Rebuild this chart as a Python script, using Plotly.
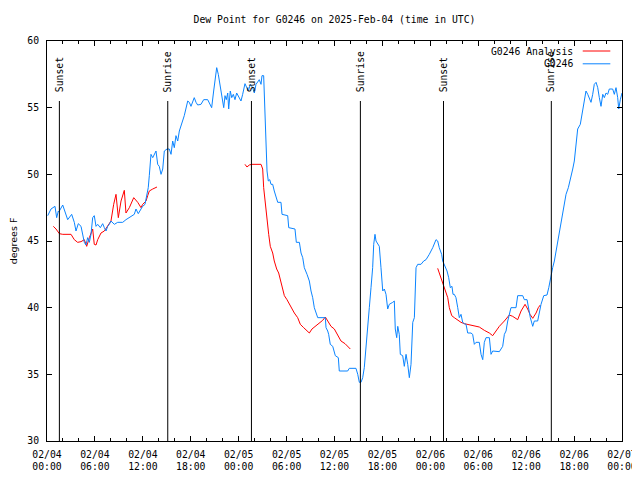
import pandas as pd
import plotly.graph_objects as go

BASE = pd.Timestamp("2025-02-04 00:00")

# Observed dew point (G0246): hours since 02/04 00:00 UTC, degrees F
blue_hours = [0.09, 0.50, 1.00, 1.21, 1.42, 1.50, 1.97, 2.38, 2.59, 3.09, 3.42, 3.63, 3.92, 4.26, 4.47, 4.67, 4.88,
              5.09, 5.30, 5.51, 5.72, 5.92, 6.14, 6.35, 6.68, 6.97, 7.18, 7.39, 7.60, 7.80, 8.01, 8.43, 8.85, 9.48,
              9.89, 10.31, 10.93, 11.14, 11.43, 11.77, 11.98, 12.27, 12.52, 12.68, 12.81, 13.02, 13.24, 13.44, 13.65,
              13.86, 14.06, 14.28, 14.49, 14.69, 15.03, 15.31, 15.53, 15.74, 15.94, 16.15, 16.37, 16.57, 16.99, 17.19,
              17.62, 17.82, 18.03, 18.44, 18.66, 18.87, 19.28, 19.62, 20.12, 20.45, 20.62, 20.87, 21.04, 21.25, 21.45,
              21.66, 21.91, 22.13, 22.29, 22.45, 22.63, 22.75, 22.95, 23.13, 23.33, 23.54, 23.75, 24.08, 24.29, 24.50,
              24.79, 25.21, 25.46, 25.76, 25.96, 26.17, 26.38, 26.58, 26.80, 26.92, 27.13, 27.21, 27.34, 27.46, 27.55,
              27.71, 27.89, 28.05, 28.26, 28.46, 28.68, 28.89, 29.30, 29.43, 30.14, 30.27, 31.05, 31.22, 31.60, 31.81,
              32.02, 32.22, 32.56, 32.85, 33.06, 33.27, 33.47, 33.68, 33.90, 34.85, 34.94, 35.15, 35.27, 35.47, 35.78,
              36.10, 36.48, 36.60, 37.65, 37.85, 38.69, 38.91, 39.11, 39.32, 39.53, 39.73, 39.94, 40.16, 40.36, 40.57,
              40.78, 40.91, 41.07, 41.20, 41.41, 41.61, 41.82, 42.04, 42.24, 42.45, 42.66, 42.86, 43.29, 43.49, 43.61,
              43.79, 43.92, 44.11, 44.24, 44.54, 44.74, 44.96, 45.17, 45.37, 45.58, 45.80, 46.00, 46.21, 46.42, 46.83,
              47.17, 47.46, 47.87, 48.30, 48.71, 48.92, 49.12, 49.42, 49.55, 49.75, 50.09, 50.30, 50.50, 50.71, 50.84,
              51.00, 51.21, 51.43, 51.63, 51.84, 52.05, 52.25, 52.47, 52.68, 53.09, 53.30, 53.51, 53.72, 54.13, 54.35,
              54.56, 54.76, 54.97, 55.39, 55.60, 55.81, 56.64, 56.85, 57.06, 57.27, 57.48, 57.69, 57.89, 58.10, 58.73,
              58.94, 59.57, 59.77, 60.11, 60.27, 60.52, 60.82, 61.02, 61.44, 61.65, 61.86, 62.20, 62.61, 62.83, 63.03,
              63.20, 63.32, 63.53, 63.74, 63.95, 64.15, 64.36, 64.58, 64.78, 64.99, 65.28, 65.61, 65.83, 66.03, 66.24,
              66.45, 66.78, 67.08, 67.28, 67.49, 67.71, 67.91, 68.12, 68.33, 68.53, 68.75, 68.96, 69.16, 69.37, 69.59,
              69.79, 70.00, 70.21, 70.41, 70.83, 71.04, 71.25, 71.46, 71.59, 71.79, 72.00]
blue_values = [46.9, 47.4, 47.6, 46.75, 47.25, 47.2, 47.7, 47.0, 46.6, 47.0, 46.4, 45.75, 46.3, 46.1, 45.5, 44.9, 44.7,
               45.25, 44.9, 45.5, 46.75, 46.9, 46.1, 46.25, 46.0, 46.3, 46.0, 45.75, 46.1, 46.25, 46.5, 46.25, 46.4, 46.4,
               46.6, 46.75, 47.0, 47.4, 47.05, 47.4, 47.6, 47.75, 48.4, 49.0, 49.9, 51.5, 51.25, 51.5, 51.75,
               50.75, 50.6, 50.0, 50.4, 51.75, 51.9, 51.9, 51.5, 52.5, 52.0, 52.9, 52.5, 53.25, 54.0, 54.4,
               55.5, 55.4, 55.1, 55.75, 55.4, 55.2, 55.25, 55.6, 55.6, 55.25, 55.0, 56.25, 57.25, 58.0, 57.5,
               56.75, 56.0, 55.0, 55.9, 55.6, 56.1, 54.9, 56.25, 55.75, 56.0, 55.6, 56.1, 55.75, 55.5, 56.0,
               56.8, 56.25, 56.75, 56.5, 56.1, 56.75, 56.9, 57.1, 56.75, 57.4, 57.4, 55.75, 53.75, 52.0, 50.25,
               49.5, 49.6, 49.25, 49.25, 48.75, 48.25, 47.9, 47.9, 47.0, 46.9, 46.0, 45.9, 44.9, 44.9, 44.1,
               43.75, 43.0, 42.5, 42.0, 41.25, 40.75, 40.0, 39.6, 39.25, 39.25, 38.5, 38.25, 38.0, 37.25, 37.1,
               36.4, 36.25, 35.25, 35.25, 35.45, 35.45, 35.0, 34.4, 34.4, 34.75, 35.5, 37.25, 38.5, 40.0, 41.5,
               43.0, 44.75, 45.5, 45.0, 44.75, 44.6, 43.0, 41.25, 41.4, 41.0, 39.9, 40.25, 40.4, 40.5, 38.4,
               37.75, 38.6, 38.0, 36.5, 36.4, 35.6, 36.5, 35.75, 34.75, 35.75, 38.9, 39.25, 43.0, 43.25, 43.25,
               43.5, 43.6, 44.0, 44.5, 45.1, 45.0, 44.5, 44.0, 43.5, 43.25, 42.75, 42.25, 41.5, 41.6, 41.0,
               41.0, 40.75, 40.0, 39.25, 39.5, 38.9, 38.8, 38.75, 38.1, 38.1, 38.0, 37.25, 37.4, 37.4, 36.5,
               36.1, 37.4, 37.75, 37.75, 36.5, 36.75, 36.7, 36.9, 37.1, 38.0, 38.25, 39.0, 39.5, 40.0, 40.0,
               40.9, 40.9, 40.6, 40.6, 40.0, 39.25, 38.6, 39.0, 39.0, 39.75, 40.25, 40.9, 40.95, 41.5, 42.25,
               42.75, 43.0, 43.5, 44.25, 45.0, 45.75, 46.5, 47.25, 47.75, 48.5, 49.0, 49.75, 50.4, 51.0, 52.25,
               53.4, 53.75, 54.75, 55.4, 56.25, 56.0, 55.75, 55.4, 56.0, 56.75, 56.9, 56.5, 55.75, 55.1, 56.0,
               55.75, 56.1, 56.0, 56.4, 56.4, 56.0, 56.5, 55.75, 54.9, 55.6, 56.1]

# Analysis dew point (G0246 Analysis); None marks gaps
red_hours = [0.79, 1.13, 1.54, 1.97, 3.01, 3.42, 3.84, 4.26, 4.67, 4.97, 5.30, 5.72, 5.92, 6.14, 6.35, 6.76, 7.18,
             7.60, 8.01, 8.35, 8.64, 8.93, 9.27, 9.68, 9.89, 10.31, 10.86, 11.36, 11.77, 11.98, 12.40, 12.61, 12.81,
             13.24, 13.77, 19.0,
             24.79, 25.04, 25.33, 25.63, 26.80, 27.01, 27.13, 27.34, 27.55, 27.76, 27.96, 28.26, 28.46, 28.76, 29.01,
             29.30, 29.51, 29.72, 30.05, 30.47, 30.97, 31.39, 31.72, 32.14, 32.56, 32.85, 33.18, 33.60, 34.10, 34.52,
             34.85, 35.15, 35.56, 35.98, 36.40, 36.81, 37.32, 37.65, 37.98, 43.0,
             48.92, 49.34, 49.55, 49.75, 50.18, 50.38, 50.68, 51.00, 51.43, 51.84, 52.25, 52.88, 53.51, 54.13, 54.76,
             55.39, 55.81, 56.22, 56.64, 57.27, 57.89, 58.31, 58.94, 59.36, 59.86, 60.19, 60.48, 60.82, 61.24, 61.52,
             61.77]
red_values = [46.1, 45.9, 45.55, 45.5, 45.5, 45.1, 44.9, 44.95, 45.1, 44.6, 45.25, 45.9, 44.75, 44.7, 45.1, 45.6, 45.75,
              46.1, 46.5, 47.75, 48.5, 46.75, 48.0, 48.8, 47.1, 47.5, 48.25, 47.9, 47.5, 47.75, 48.0, 48.4, 48.75,
              48.9, 49.05, None,
              50.75, 50.55, 50.7, 50.75, 50.75, 50.4, 49.0, 47.75, 46.4, 45.5, 44.6, 44.1, 43.5, 42.9, 42.6,
              41.9, 41.4, 40.9, 40.6, 40.1, 39.6, 39.25, 38.75, 38.5, 38.3, 38.1, 38.4, 38.6, 38.8, 39.05,
              39.3, 39.0, 38.6, 38.4, 37.9, 37.5, 37.3, 37.1, 36.9, None,
              42.95, 42.25, 41.9, 41.5, 40.75, 40.0, 39.4, 39.25, 39.05, 38.9, 38.8, 38.7, 38.6, 38.55, 38.3,
              38.1, 37.9, 38.25, 38.6, 39.0, 39.45, 39.35, 39.1, 39.75, 40.25, 39.9, 39.5, 39.2, 39.6, 40.0,
              40.2]

# Sun events (hours since 02/04 00:00 UTC)
event_labels = ["Sunset", "Sunrise", "Sunset", "Sunrise", "Sunset", "Sunrise"]
event_hours = [1.55, 15.12, 25.6, 39.24, 49.65, 63.15]

tick_hours = [0, 6, 12, 18, 24, 30, 36, 42, 48, 54, 60, 66, 72]
tick_labels = ["02/04<br>00:00", "02/04<br>06:00", "02/04<br>12:00", "02/04<br>18:00",
               "02/05<br>00:00", "02/05<br>06:00", "02/05<br>12:00", "02/05<br>18:00",
               "02/06<br>00:00", "02/06<br>06:00", "02/06<br>12:00", "02/06<br>18:00",
               "02/07<br>00:00"]

series_names = ["G0246 Analysis", "G0246"]
series_colors = ["#ff0000", "#0a84ff"]


def to_time(hours):
    return [BASE + pd.Timedelta(hours=h) for h in hours]


MONO = "DejaVu Sans Mono"
FS = 9.75

fig = go.Figure()
fig.add_trace(go.Scatter(x=to_time(red_hours), y=red_values, mode="lines", name=series_names[0],
                         line=dict(color=series_colors[0], width=1), connectgaps=False))
fig.add_trace(go.Scatter(x=to_time(blue_hours), y=blue_values, mode="lines", name=series_names[1],
                         line=dict(color=series_colors[1], width=1)))

shapes = []
annotations = []
for lab, h in zip(event_labels, event_hours):
    t = BASE + pd.Timedelta(hours=h)
    shapes.append(dict(type="line", xref="x", yref="y", x0=t, x1=t, y0=30, y1=55.5,
                       line=dict(color="black", width=1)))
    annotations.append(dict(x=t, y=56.0, xref="x", yref="y", text=lab, textangle=-90,
                            showarrow=False, xanchor="center", yanchor="bottom",
                            font=dict(family=MONO, size=FS, color="black")))

# Legend (text right-aligned, sample line to the right)
leg_y = [0.975, 0.943]
for name, col, yy in zip(series_names, series_colors, leg_y):
    annotations.append(dict(x=0.9183, y=yy, xref="paper", yref="paper", text=name, showarrow=False,
                            xanchor="right", yanchor="middle",
                            font=dict(family=MONO, size=FS, color="black")))
    shapes.append(dict(type="line", xref="paper", yref="paper", x0=0.9317, x1=0.9797, y0=yy, y1=yy,
                       line=dict(color=col, width=1)))

fig.update_layout(
    width=640, height=480,
    margin=dict(l=39, r=26, t=33, b=47, autoexpand=False),
    paper_bgcolor="white", plot_bgcolor="white",
    showlegend=False,
    title=dict(text="Dew Point for G0246 on 2025-Feb-04 (time in UTC)", x=0.5, xref="paper",
               y=1 - 12 / 480, yref="container", xanchor="center", yanchor="middle",
               font=dict(family=MONO, size=FS, color="black"), automargin=False),
    shapes=shapes, annotations=annotations,
)
fig.update_xaxes(
    range=[BASE, BASE + pd.Timedelta(hours=72)],
    tickvals=to_time(tick_hours), ticktext=tick_labels,
    ticks="inside", ticklen=5, tickcolor="black", tickwidth=1,
    minor=dict(ticks="inside", ticklen=3, dtick=2 * 3600 * 1000, tick0=BASE, tickcolor="black"),
    showline=True, linecolor="black", linewidth=1, mirror="ticks",
    showgrid=False, zeroline=False, automargin=False, ticklabelstandoff=4,
    tickfont=dict(family=MONO, size=FS, color="black"),
)
fig.update_yaxes(
    range=[30, 60], dtick=5, tick0=30,
    ticks="inside", ticklen=5, tickcolor="black", tickwidth=1,
    showline=True, linecolor="black", linewidth=1, mirror="ticks",
    showgrid=False, zeroline=False, automargin=False, ticklabelstandoff=5,
    tickfont=dict(family=MONO, size=FS, color="black"),
    title=dict(text="degrees F", font=dict(family="DejaVu Sans", size=9.5, color="black"), standoff=14),
)

fig.write_html("out.html")
